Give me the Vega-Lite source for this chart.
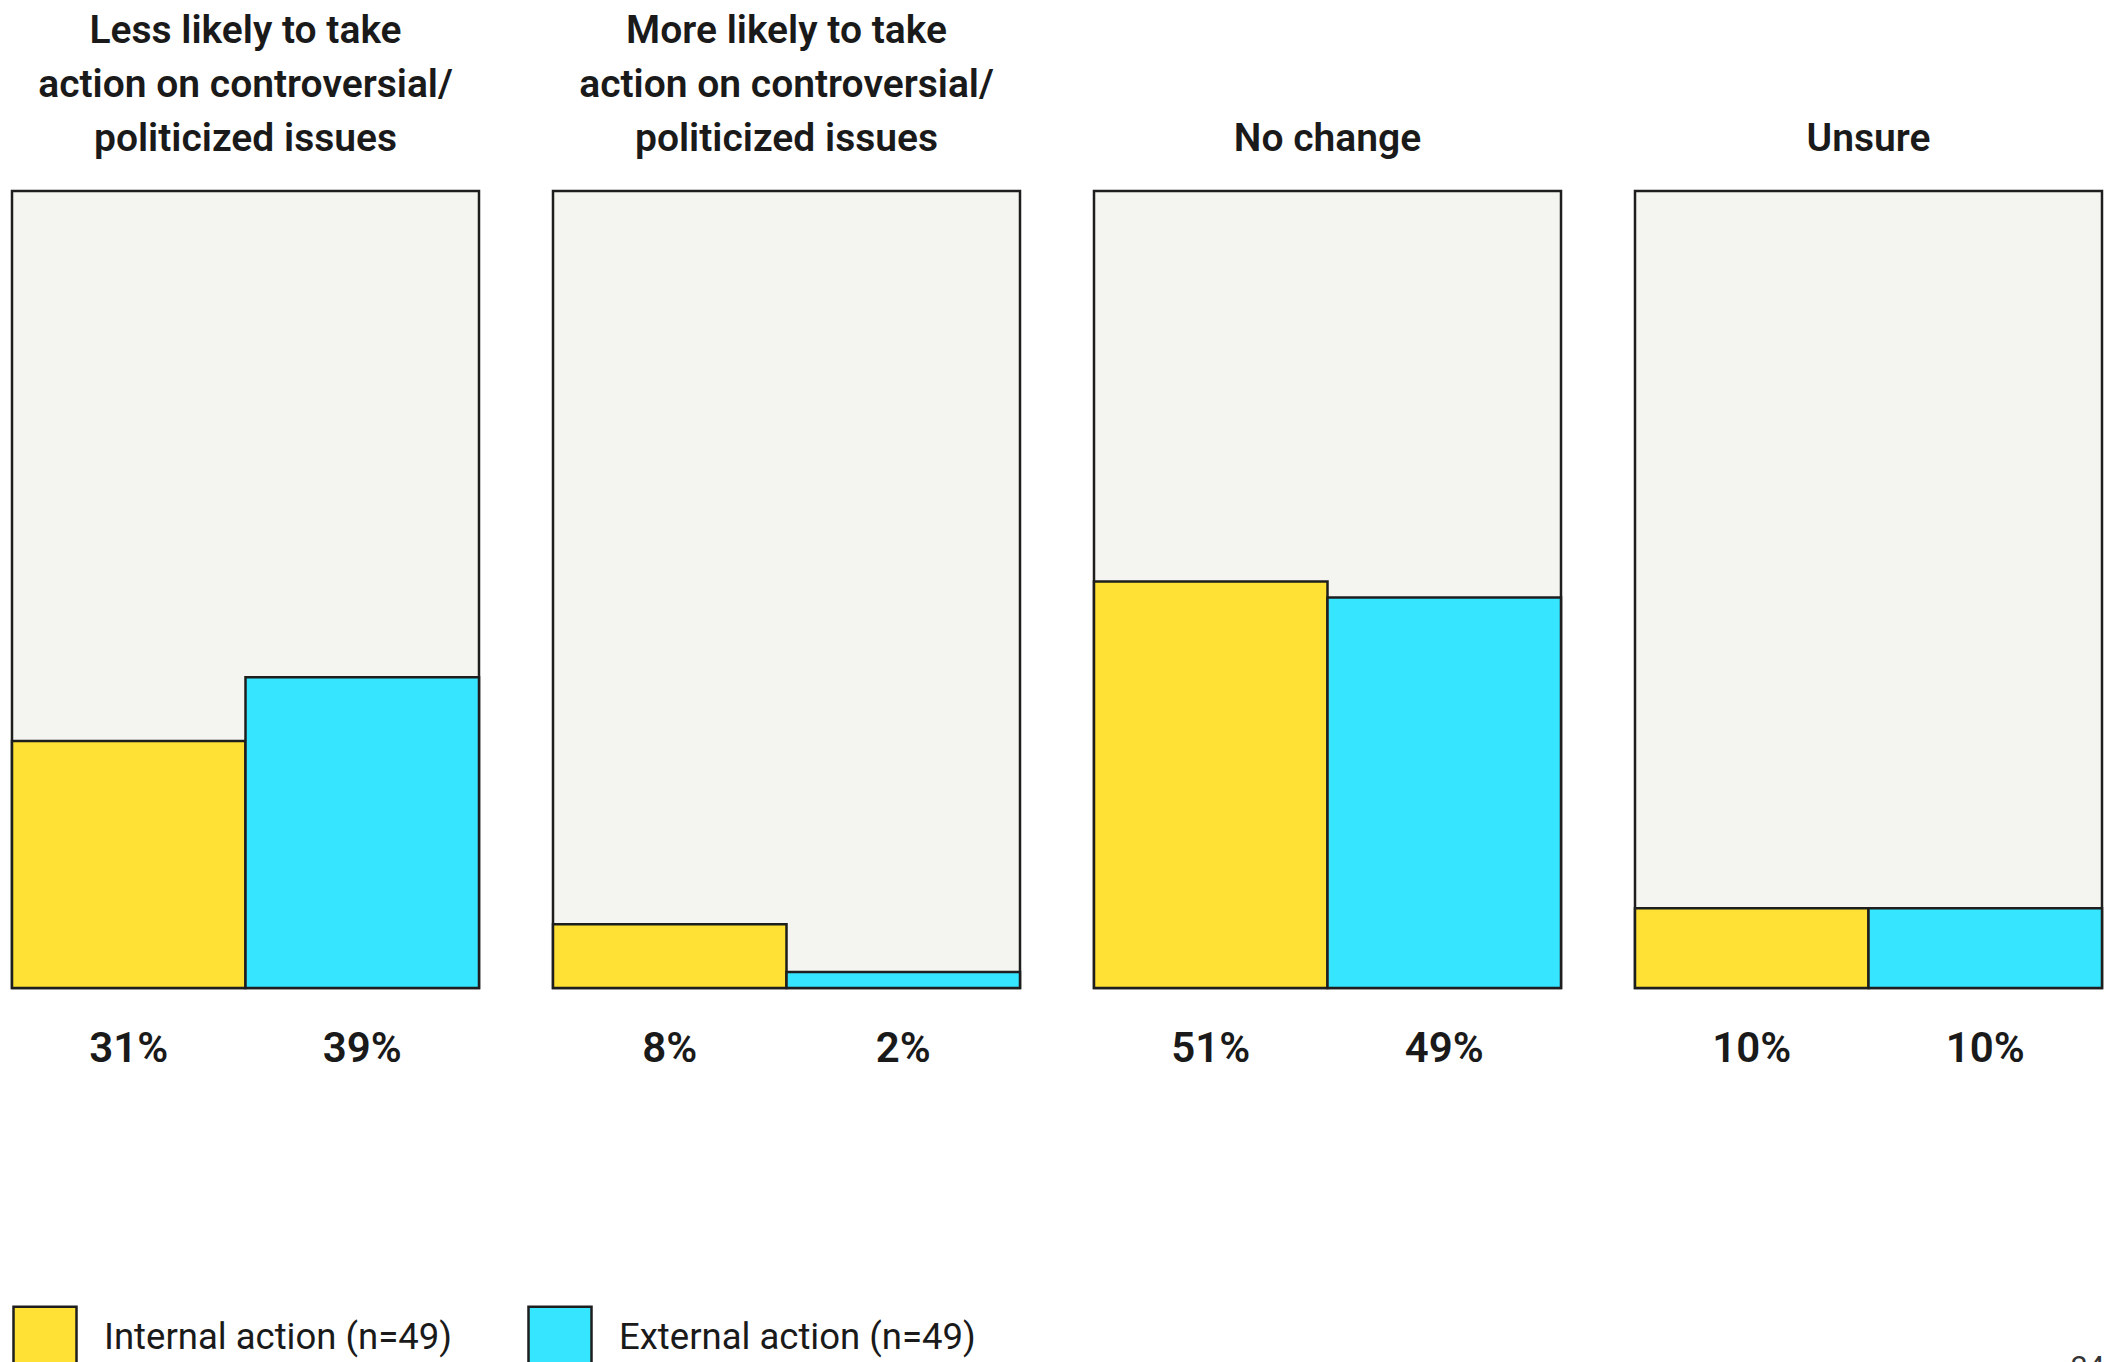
{
  "$schema": "https://vega.github.io/schema/vega-lite/v6.json",
  "padding": {"left": 9, "top": 12, "right": 10, "bottom": 0},
  "background": "white",
  "data": {"values": [
    {"group": "Less likely to take|action on controversial/|politicized issues", "action": "Internal action (n=49)", "value": 0.31},
    {"group": "Less likely to take|action on controversial/|politicized issues", "action": "External action (n=49)", "value": 0.39},
    {"group": "More likely to take|action on controversial/|politicized issues", "action": "Internal action (n=49)", "value": 0.08},
    {"group": "More likely to take|action on controversial/|politicized issues", "action": "External action (n=49)", "value": 0.02},
    {"group": "No change", "action": "Internal action (n=49)", "value": 0.51},
    {"group": "No change", "action": "External action (n=49)", "value": 0.49},
    {"group": "Unsure", "action": "Internal action (n=49)", "value": 0.10},
    {"group": "Unsure", "action": "External action (n=49)", "value": 0.10}
  ]},
  "title": {"text": "24", "orient": "bottom", "anchor": "end", "font": "Roboto", "fontSize": 30, "fontWeight": "normal", "color": "#333333", "offset": -22},
  "facet": {
    "column": {
      "field": "group",
      "type": "nominal",
      "sort": ["Less likely to take|action on controversial/|politicized issues", "More likely to take|action on controversial/|politicized issues", "No change", "Unsure"],
      "title": null,
      "header": {
        "labelOrient": "top",
        "labelExpr": "split(datum.value, '|')",
        "labelFont": "Roboto",
        "labelFontSize": 39,
        "labelFontWeight": 600,
        "labelColor": "#1a1a1a",
        "labelBaseline": "bottom",
        "labelLineHeight": 54,
        "labelPadding": -9
      }
    }
  },
  "spacing": 68,
  "spec": {
    "width": 467,
    "height": 797,
    "layer": [
      {
        "mark": {"type": "bar", "stroke": "#1e1e1e", "strokeWidth": 2.5},
        "encoding": {
          "x": {"field": "action", "type": "nominal", "sort": ["Internal action (n=49)", "External action (n=49)"], "axis": null, "scale": {"paddingInner": 0, "paddingOuter": 0}},
          "y": {"field": "value", "type": "quantitative", "axis": null, "scale": {"domain": [0, 1]}},
          "color": {
            "field": "action", "type": "nominal",
            "sort": ["Internal action (n=49)", "External action (n=49)"],
            "scale": {"domain": ["Internal action (n=49)", "External action (n=49)"], "range": ["#FFE135", "#36E5FF"]},
            "legend": {
              "title": null,
              "orient": "none",
              "direction": "horizontal",
              "legendX": 0,
              "legendY": 1114,
              "symbolType": "square",
              "symbolSize": 3969,
              "symbolStrokeColor": "#1e1e1e",
              "symbolStrokeWidth": 2.5,
              "symbolOpacity": 1,
              "labelFont": "Roboto",
              "labelFontSize": 36.5,
              "labelColor": "#1a1a1a",
              "labelOffset": 26,
              "columnPadding": 71,
              "labelLimit": 600,
              "padding": 0
            }
          }
        }
      },
      {
        "mark": {"type": "text", "font": "Roboto", "fontSize": 42, "fontWeight": 600, "baseline": "middle", "dy": 61},
        "encoding": {
          "x": {"field": "action", "type": "nominal", "sort": ["Internal action (n=49)", "External action (n=49)"]},
          "y": {"datum": 0},
          "text": {"field": "value", "type": "quantitative", "format": ".0%"},
          "color": {"value": "#1a1a1a"}
        }
      }
    ]
  },
  "config": {
    "view": {"fill": "#f4f4f0", "stroke": "#1e1e1e", "strokeWidth": 2.5}
  }
}
